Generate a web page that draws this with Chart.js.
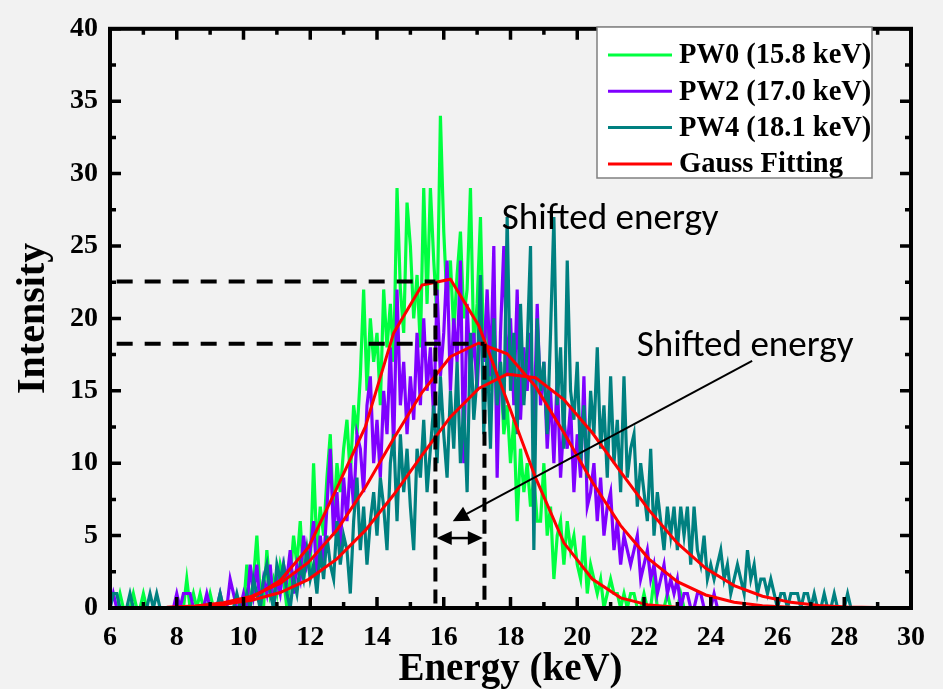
<!DOCTYPE html>
<html>
<head>
<meta charset="utf-8">
<script src="https://cdn.jsdelivr.net/npm/chart.js@4.4.1/dist/chart.umd.min.js"></script>
<style>
  html, body { margin: 0; padding: 0; background: #f2f2f2; }
  #chart { display: block; }
</style>
</head>
<body>
<canvas id="chart" width="943" height="689"></canvas>
<script>
// Spectra: counts per 0.1 keV channel, first channel at 6.0 keV
const startEnergy = 6.0;
const channelWidth = 0.1;

const pw0 = [
  0,0,0,1,0,0,0,1,0,0,   1,0,0,0,0,0,0,0,0,0,   0,0,0,2,0,1,0,1,0,0,   1,0,0,0,0,0,0,0,0,0,
  0,3,0,2,5,1,0,4,1,2,   1,3,2,0,2,5,3,6,2,4,   3,10,4,7,5,9,12,6,10,8,   11,13,9,14,12,16,22,15,20,17,
  19,14,22,18,21,17,29,22,19,28,   25,20,23,18,29,21,29,24,20,34,   26,21,24,19,23,26,20,22,29,18,
  21,27,17,21,15,19,13,17,12,14,   10,13,6,11,8,10,7,9,6,6,   10,5,7,2,5,6,3,6,4,5,
  3,2,5,1,3,2,1,2,0,1,   2,1,1,0,1,0,1,1,0,0,   1,0,0,2,0,0,0,1,0,0,   0,1,0,0,0,0,0,0,0,0,
  0,0,0,0,0,0,0,0,0,0,   0,0,0,0,0,0,0,0,0,0,   0,0,0,0,0,0,0,0,0,0,   0,0,0,0,0,0,0,0,0,0,
  0,0,0,0,0,0,0,0,0,0,   0,0,0,0,0,0,0,0,0,0,   0
];

const pw2 = [
  0,1,0,0,0,0,0,0,0,0,   0,0,0,0,0,0,0,0,0,0,   1,0,1,1,1,0,0,0,0,1,   0,0,0,1,0,0,2,1,0,0,
  1,0,3,1,3,0,2,1,3,0,   2,1,3,2,4,1,3,2,5,3,   4,6,2,5,3,7,11,5,8,4,   9,6,10,7,12,11,8,14,16,10,
  13,9,15,12,18,11,22,14,17,12,   16,13,19,14,20,15,18,13,22,16,   19,24,15,20,17,24,10,21,16,19,
  15,20,17,22,16,25,9,19,25,16,   20,14,22,13,18,15,19,12,21,14,   17,11,15,10,16,9,13,11,14,8,
  12,9,16,7,8,10,6,9,5,7,   8,4,6,3,5,4,3,4,5,2,   3,4,2,3,1,2,3,1,2,1,   2,0,1,1,0,0,1,1,0,0,
  0,1,0,0,0,0,0,0,0,0,   0,0,0,0,0,0,0,0,0,0,   0,0,0,0,0,0,0,0,0,0,   0,0,0,0,0,0,0,0,0,0,
  0,0,0,0,0,0,0,0,0,0,   0,0,0,0,0,0,0,0,0,0,   0
];

const pw4 = [
  0,1,1,0,0,0,1,0,0,0,   0,0,1,0,1,0,0,0,0,0,   0,0,0,0,0,0,0,0,0,0,   0,0,0,1,0,0,0,0,1,0,
  0,1,0,2,1,0,2,3,1,0,   3,2,3,1,0,2,1,3,2,4,   2,3,1,4,2,5,3,2,6,3,   5,4,1,6,9,4,7,3,6,8,
  5,9,7,4,10,12,6,12,8,11,   7,4,11,9,13,8,11,14,10,16,   12,9,15,11,17,10,14,8,19,13,
  16,23,12,18,11,20,14,17,13,27,   15,19,12,21,14,18,25,4,20,15,   17,12,19,27,14,18,11,24,15,13,
  17,10,14,9,15,12,18,11,14,9,   16,10,13,8,16,9,11,12,7,10,   8,6,11,5,8,6,4,7,5,7,   4,7,5,7,3,7,4,3,5,2,
  3,2,3,4,2,3,1,2,3,2,   1,4,2,3,1,2,2,1,2,1,   0,1,1,0,1,1,1,0,1,1,   0,1,0,0,1,0,0,1,0,0,
  0,1,0,0,0,0,0,0,0,0,   0,0,0,0,0,0,0,0,0,0,   0
];

// Gauss fits
const fitEnergy = [6.0, 6.85, 7.7, 8.55, 9.4, 10.25, 11.1, 11.95, 12.8, 13.65, 14.5, 15.35, 16.2, 17.05,
  17.9, 18.75, 19.6, 20.45, 21.3, 22.15, 23.0, 23.85, 24.7, 25.55, 26.4, 27.25, 28.1, 28.95, 29.8];
const fitPW0 = [0, 0, 0.01, 0.06, 0.22, 0.7, 1.9, 4.2, 8.3, 12.5, 19.0, 22.3, 22.7, 19.5,
  14.3, 9.0, 4.5, 2.0, 0.7, 0.2, 0.05, 0.01, 0, 0, 0, 0, 0, 0, 0];
const fitPW2 = [0.005, 0.017, 0.05, 0.14, 0.36, 0.82, 1.69, 3.16, 5.38, 8.32, 11.7, 14.9, 17.35, 18.3,
  17.55, 15.3, 12.1, 8.7, 5.69, 3.38, 1.82, 0.9, 0.4, 0.16, 0.06, 0.02, 0.006, 0.002, 0];
const fitPW4 = [0.005, 0.015, 0.04, 0.1, 0.25, 0.54, 1.07, 1.98, 3.39, 5.36, 7.82, 10.56, 13.2, 15.16,
  16.15, 15.9, 14.4, 12.1, 9.4, 6.76, 4.48, 2.74, 1.55, 0.81, 0.39, 0.18, 0.07, 0.03, 0.01];

const seriesLabels = ["PW0 (15.8 keV)", "PW2 (17.0 keV)", "PW4 (18.1 keV)", "Gauss Fitting"];
const seriesColors = ["#00ff40", "#7f00ff", "#008080", "#ff0000"];

// annotation marks (data units)
const peakLevels = [22.55, 18.25];
const peakEnergies = [15.75, 17.22];
const shiftBar = [15.79, 17.17, 4.83];      // from, to, level
const arrowFrom = [25.24, 17.07];
const arrowTo = [16.27, 5.99];
const noteText = "Shifted energy";
const notePositions = [[17.74, 26.2], [21.78, 17.4]];

const serif = "'Liberation Serif', 'Times New Roman', serif";

function toPoints(values) {
  return values.map((v, i) => ({ x: +(startEnergy + i * channelWidth).toFixed(2), y: v }));
}

function fitPoints(values) {
  return values.map((v, i) => ({ x: fitEnergy[i], y: v }));
}

function lineSet(label, data, color, width, order) {
  return {
    label: label,
    data: data,
    borderColor: color,
    backgroundColor: color,
    borderWidth: width,
    pointRadius: 0,
    tension: 0,
    fill: false,
    order: order,
  };
}

function arrowHead(ctx, x, y, angle, len, half) {
  ctx.beginPath();
  ctx.moveTo(x, y);
  ctx.lineTo(x - len * Math.cos(angle) + half * Math.sin(angle), y - len * Math.sin(angle) - half * Math.cos(angle));
  ctx.lineTo(x - len * Math.cos(angle) - half * Math.sin(angle), y - len * Math.sin(angle) + half * Math.cos(angle));
  ctx.closePath();
  ctx.fill();
}

const decorations = {
  id: "decorations",
  beforeDraw(chart) {
    const ctx = chart.ctx;
    ctx.save();
    ctx.fillStyle = "#f2f2f2";
    ctx.fillRect(0, 0, chart.width, chart.height);
    ctx.restore();
  },
  afterDatasetsDraw(chart) {
    const ctx = chart.ctx;
    const xs = chart.scales.x;
    const ys = chart.scales.y;
    const area = chart.chartArea;
    const px = (v) => xs.getPixelForValue(v);
    const py = (v) => ys.getPixelForValue(v);

    ctx.save();
    ctx.strokeStyle = "#000";
    ctx.fillStyle = "#000";

    // dashed guide lines
    ctx.lineWidth = 4;
    for (let i = 0; i < peakLevels.length; i++) {
      ctx.setLineDash([16, 12]);
      ctx.beginPath();
      ctx.moveTo(px(6.2), py(peakLevels[i]));
      ctx.lineTo(px(peakEnergies[i]), py(peakLevels[i]));
      ctx.stroke();
      ctx.setLineDash([14, 8]);
      ctx.beginPath();
      ctx.moveTo(px(peakEnergies[i]), py(peakLevels[i]));
      ctx.lineTo(px(peakEnergies[i]), py(0));
      ctx.stroke();
    }
    ctx.setLineDash([]);

    // double arrow between peaks
    const bx1 = px(shiftBar[0]), bx2 = px(shiftBar[1]), by = py(shiftBar[2]);
    ctx.lineWidth = 2.5;
    ctx.beginPath();
    ctx.moveTo(bx1 + 10, by);
    ctx.lineTo(bx2 - 10, by);
    ctx.stroke();
    arrowHead(ctx, bx1, by, Math.PI, 15, 7);
    arrowHead(ctx, bx2, by, 0, 15, 7);

    // pointer arrow
    const ax1 = px(arrowFrom[0]), ay1 = py(arrowFrom[1]);
    const ax2 = px(arrowTo[0]), ay2 = py(arrowTo[1]);
    const ang = Math.atan2(ay2 - ay1, ax2 - ax1);
    ctx.lineWidth = 2;
    ctx.beginPath();
    ctx.moveTo(ax1, ay1);
    ctx.lineTo(ax2 - 12 * Math.cos(ang), ay2 - 12 * Math.sin(ang));
    ctx.stroke();
    arrowHead(ctx, ax2, ay2, ang, 16, 8);

    // notes
    ctx.font = "36px Carlito, Calibri, Lato, sans-serif";
    const w = ctx.measureText(noteText).width;
    const size = 36 * 217 / w;
    ctx.font = size.toFixed(1) + "px Carlito, Calibri, Lato, sans-serif";
    ctx.textBaseline = "alphabetic";
    ctx.textAlign = "left";
    notePositions.forEach((p) => ctx.fillText(noteText, px(p[0]), py(p[1])));

    // frame
    ctx.lineWidth = 4;
    ctx.strokeRect(area.left, area.top, area.right - area.left, area.bottom - area.top);

    // inward ticks on all four sides
    ctx.lineWidth = 3.5;
    ctx.beginPath();
    for (let v = 6; v <= 30; v += 1) {
      const len = v % 2 === 0 ? 11 : 6;
      const x = px(v);
      ctx.moveTo(x, area.bottom);
      ctx.lineTo(x, area.bottom - len);
      ctx.moveTo(x, area.top);
      ctx.lineTo(x, area.top + len);
    }
    for (let v = 0; v <= 40; v += 2.5) {
      const len = v % 5 === 0 ? 11 : 6;
      const y = py(v);
      ctx.moveTo(area.left, y);
      ctx.lineTo(area.left + len, y);
      ctx.moveTo(area.right, y);
      ctx.lineTo(area.right - len, y);
    }
    ctx.stroke();

    // legend
    const lx = 597, ly = 27, lw = 275, lh = 151;
    ctx.fillStyle = "#ffffff";
    ctx.fillRect(lx, ly, lw, lh);
    ctx.strokeStyle = "#808080";
    ctx.lineWidth = 1.5;
    ctx.strokeRect(lx, ly, lw, lh);
    ctx.font = "bold 28.5px " + serif;
    ctx.textBaseline = "middle";
    seriesLabels.forEach((label, i) => {
      const y = ly + 28 + i * 36.3;
      ctx.strokeStyle = seriesColors[i];
      ctx.lineWidth = 3;
      ctx.beginPath();
      ctx.moveTo(lx + 11, y);
      ctx.lineTo(lx + 75, y);
      ctx.stroke();
      ctx.fillStyle = "#000";
      ctx.fillText(label, lx + 82, y + 1);
    });

    ctx.restore();
  },
};

new Chart(document.getElementById("chart"), {
  type: "line",
  data: {
    datasets: [
      lineSet(seriesLabels[3], fitPoints(fitPW0), seriesColors[3], 3, 0),
      lineSet(seriesLabels[3], fitPoints(fitPW2), seriesColors[3], 3, 0),
      lineSet(seriesLabels[3], fitPoints(fitPW4), seriesColors[3], 3, 0),
      lineSet(seriesLabels[2], toPoints(pw4), seriesColors[2], 3.2, 1),
      lineSet(seriesLabels[1], toPoints(pw2), seriesColors[1], 3.2, 2),
      lineSet(seriesLabels[0], toPoints(pw0), seriesColors[0], 3.2, 3),
    ],
  },
  options: {
    responsive: false,
    animation: false,
    devicePixelRatio: 1,
    layout: { padding: { top: 20, right: 32, left: 0, bottom: 0 } },
    plugins: {
      legend: { display: false },
      tooltip: { enabled: false },
    },
    scales: {
      x: {
        type: "linear",
        min: 6,
        max: 30,
        ticks: {
          stepSize: 2,
          color: "#000",
          padding: 13,
          maxRotation: 0,
          autoSkip: false,
          font: { family: serif, size: 28, weight: "bold" },
        },
        grid: { display: false, drawTicks: false },
        border: { display: false },
        title: {
          display: true,
          text: "Energy (keV)",
          color: "#000",
          padding: 0,
          font: { family: serif, size: 39, weight: "bold", lineHeight: 1 },
        },
        afterFit(scale) { scale.height = 81; },
      },
      y: {
        min: 0,
        max: 40,
        ticks: {
          stepSize: 5,
          color: "#000",
          padding: 12,
          font: { family: serif, size: 28, weight: "bold" },
        },
        grid: { display: false, drawTicks: false },
        border: { display: false },
        title: {
          display: true,
          text: "Intensity",
          color: "#000",
          padding: { top: 10, bottom: 0 },
          font: { family: serif, size: 40, weight: "bold" },
        },
        afterFit(scale) { scale.width = 110; },
      },
    },
  },
  plugins: [decorations],
});
</script>
</body>
</html>
